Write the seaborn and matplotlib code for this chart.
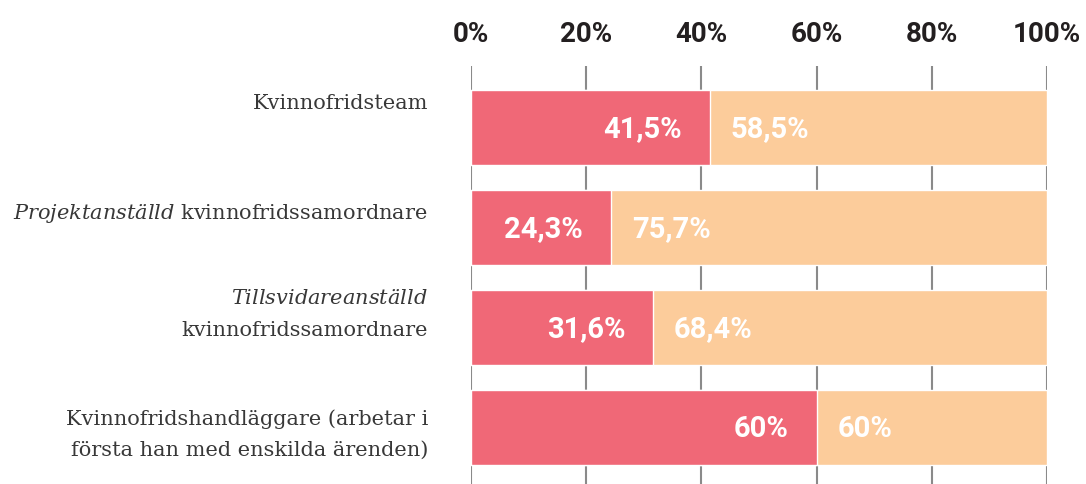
import matplotlib
matplotlib.use("Agg")
import matplotlib.pyplot as plt
import matplotlib.transforms as mtransforms
import seaborn as sns
import pandas as pd

categories = [
    "Kvinnofridsteam",
    r"$\mathit{Projektanställd}$ kvinnofridssamordnare",
    "$\\mathit{Tillsvidareanställd}$\nkvinnofridssamordnare",
    "Kvinnofridshandläggare (arbetar i\nförsta han med enskilda ärenden)",
]
red_values = [41.5, 24.3, 31.6, 60.0]
peach_values = [58.5, 75.7, 68.4, 40.0]
red_labels = ["41,5%", "24,3%", "31,6%", "60%"]
peach_labels = ["58,5%", "75,7%", "68,4%", "60%"]
x_ticks = [0, 20, 40, 60, 80, 100]
x_ticklabels = ["0%", "20%", "40%", "60%", "80%", "100%"]

RED = "#F06877"
PEACH = "#FCCC9B"

sns.set_theme(style="white")
plt.rcParams["font.family"] = ["DejaVu Serif"]
plt.rcParams["mathtext.fontset"] = "custom"
plt.rcParams["mathtext.rm"] = "DejaVu Serif"
plt.rcParams["mathtext.it"] = "DejaVu Serif:italic"

df = pd.DataFrame({
    "cat": categories,
    "red": red_values,
    "total": [r + p for r, p in zip(red_values, peach_values)],
})

fig = plt.figure(figsize=(10.86, 4.84), dpi=100)
ax = fig.add_axes([471 / 1086, 0.0, (1047 - 471) / 1086, 1 - 66 / 484])

sns.barplot(data=df, x="total", y="cat", color=PEACH, width=0.75, ax=ax,
            saturation=1, orient="h", zorder=2)
sns.barplot(data=df, x="red", y="cat", color=RED, width=0.75, ax=ax,
            saturation=1, orient="h", zorder=3)

for i in range(len(categories)):
    ax.annotate(red_labels[i], xy=(red_values[i], i), xytext=(-20, -1),
                textcoords="offset points", ha="right", va="center",
                color="white", fontsize=21, fontweight="bold",
                family="Roboto", zorder=5)
    ax.annotate(peach_labels[i], xy=(red_values[i], i), xytext=(15, -1),
                textcoords="offset points", ha="left", va="center",
                color="white", fontsize=21, fontweight="bold",
                family="Roboto", zorder=5)

ax.set_xlim(0, 100)
ax.set_ylim(3.565, -0.615)
ax.set_xticks(x_ticks)
ax.set_xticklabels(x_ticklabels, family="Roboto", fontweight="bold",
                   fontsize=20, color="#231F20")
ax.xaxis.tick_top()
ax.tick_params(axis="x", length=0, pad=13)
ax.set_yticks(range(len(categories)))
ax.set_yticklabels([""] * len(categories))
ax.tick_params(axis="y", length=0)

# category labels, right-aligned left of the axis, nudged vertically
label_offsets_px = [24, 14, 13, -7]
for i, cat in enumerate(categories):
    off = mtransforms.ScaledTranslation(-43 / 100, label_offsets_px[i] / 100,
                                        fig.dpi_scale_trans)
    ax.text(0, i, cat, transform=ax.get_yaxis_transform() + off,
            ha="right", va="center", multialignment="right",
            fontsize=15, color="#383838", linespacing=1.8)

ax.set_xlabel("")
ax.set_ylabel("")
ax.grid(axis="x", color="#8a8a8a", linewidth=1.5, zorder=0)
ax.grid(axis="y", visible=False)
ax.set_axisbelow(True)
for s in ax.spines.values():
    s.set_visible(False)

fig.savefig("out.png", dpi=100)
